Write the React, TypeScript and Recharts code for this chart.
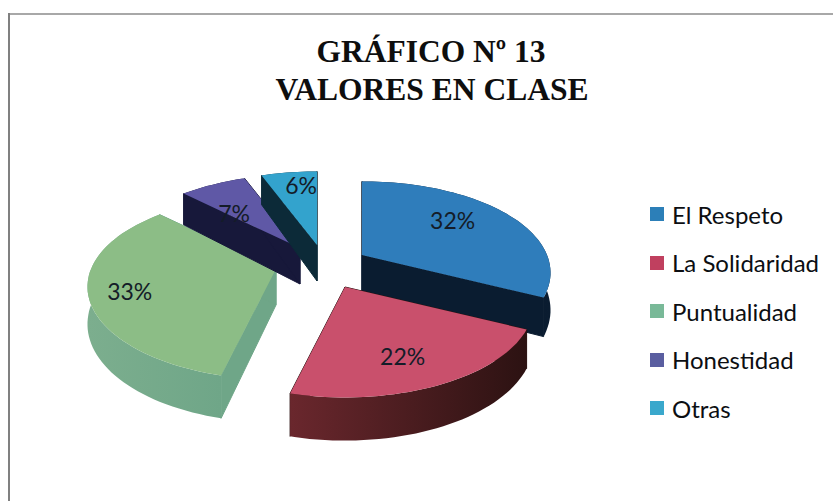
import * as React from "react"
import { PieChart, Pie, Legend } from "recharts"

const categories = ["El Respeto", "La Solidaridad", "Puntualidad", "Honestidad", "Otras"]
const shares = [32, 22, 33, 7, 6]
const titleLines = ["GRÁFICO Nº 13", "VALORES EN CLASE"]

const topColors = ["#2f7dbb", "#c9506c", "#8cbd86", "#5f58a6", "#33a3cd"]
const rimColors = ["#0d2036", "#6a272d", "#7cae8e", "#17183a", "#0c2a38"]
const rimFarColors = ["#0a1c30", "#2c1212", "#6fa688", "#17183a", "#0c2a38"]
const legendColors = ["#2c7fb8", "#c0405f", "#79b998", "#5a5ea0", "#3aa8cc"]

const pieData = categories.map((name, i) => ({ name, value: shares[i], fill: topColors[i] }))

// look of the tilted pie
const RX = 185
const RY = 92
const PERSPECTIVE = 0.2
const DEPTH = 36
const shiftX = [44, 27, -42, -18, -1]
const shiftY = [-13, 19, 1, -20, -23]
const labelSpot = [
  [0.65, 0.8],
  [0.62, 0.7],
  [0.78, 0.8],
  [0.76, 0.55],
  [0.57, 0.82],
]

function project(index: number, cx: number, cy: number, clock: number, r: number, drop = false) {
  const rad = (clock * Math.PI) / 180
  const X = Math.sin(rad) * r
  const Y = -Math.cos(rad) * r
  const k = 1 + PERSPECTIVE * Y
  return {
    x: cx + shiftX[index] + X * k * RX,
    y: cy + shiftY[index] + Y * k * RY + (drop ? DEPTH * k : 0),
  }
}

function toPath(points: { x: number; y: number }[]) {
  return points.map((p, i) => `${i ? "L" : "M"}${p.x.toFixed(1)},${p.y.toFixed(1)}`).join(" ") + " Z"
}

function Slice(props: any) {
  const { cx, cy, startAngle, endAngle, index } = props
  const from = 90 - startAngle
  const to = 90 - endAngle
  const rim: number[] = []
  for (let a = from; a < to; a += 2) rim.push(a)
  rim.push(to)

  const top = rim.map((a) => project(index, cx, cy, a, 1))
  const low = rim.map((a) => project(index, cx, cy, a, 1, true))
  const apex = project(index, cx, cy, 0, 0)
  const apexLow = project(index, cx, cy, 0, 0, true)
  const wall = rimFarColors[index]
  const gradId = `rim-${index}`

  return (
    <g>
      <defs>
        <linearGradient id={gradId} x1="0" y1="0" x2="1" y2="0">
          <stop offset="0" stopColor={rimColors[index]} />
          <stop offset="1" stopColor={rimFarColors[index]} />
        </linearGradient>
      </defs>
      <path d={toPath([apex, top[0], low[0], apexLow])} fill={wall} stroke={wall} />
      <path d={toPath([apex, top[top.length - 1], low[low.length - 1], apexLow])} fill={wall} stroke={wall} />
      <path d={toPath([...top, ...[...low].reverse()])} fill={`url(#${gradId})`} />
      <path d={toPath([apex, ...top])} fill={topColors[index]} />
    </g>
  )
}

function SliceLabel(props: any) {
  const { cx, cy, midAngle, index, value } = props
  const rad = ((90 - midAngle) * Math.PI) / 180
  const X = Math.sin(rad)
  const Y = -Math.cos(rad)
  const k = 1 + PERSPECTIVE * Y
  const x = cx + shiftX[index] + X * k * RX * labelSpot[index][0]
  const y = cy + shiftY[index] + Y * k * RY * labelSpot[index][1]
  return (
    <text x={x} y={y} textAnchor="middle" dominantBaseline="central" fontFamily="Lato" fontSize={23} fill="#141c28">
      {value}%
    </text>
  )
}

function LegendList() {
  return (
    <div>
      {categories.map((name, i) => (
        <div key={name} style={{ display: "flex", alignItems: "center", height: 48.5 }}>
          <span style={{ width: 14, height: 14, background: legendColors[i], marginRight: 8 }} />
          <span style={{ fontFamily: "Lato", fontSize: 24, color: "#0c0e12" }}>{name}</span>
        </div>
      ))}
    </div>
  )
}

export default function App() {
  return (
    <div style={{ position: "relative", width: 833, height: 501, overflow: "hidden", background: "#fff" }}>
      <style>{"body{margin:0;background:#fff}"}</style>
      <div style={{ position: "absolute", left: 8, top: 13, width: 825, height: 2, background: "#a8a8a8" }} />
      <div style={{ position: "absolute", left: 8, top: 13, width: 2, height: 488, background: "#808080" }} />
      <PieChart
        width={833}
        height={501}
        margin={{ top: 0, right: 0, bottom: 0, left: 0 }}
        style={{ position: "absolute", left: 0, top: 0 }}
      >
        <text x={431} y={62} textAnchor="middle" textLength={229} lengthAdjust="spacingAndGlyphs" fontFamily="Liberation Serif" fontWeight="bold" fontSize={32} fill="#0e0e0e">
          {titleLines[0]}
        </text>
        <text x={432} y={100} textAnchor="middle" textLength={313} lengthAdjust="spacingAndGlyphs" fontFamily="Liberation Serif" fontWeight="bold" fontSize={32} fill="#0e0e0e">
          {titleLines[1]}
        </text>
        <Pie
          data={pieData}
          dataKey="value"
          nameKey="name"
          cx={318}
          cy={268}
          outerRadius={RX}
          startAngle={90}
          endAngle={-270}
          stroke="none"
          shape={Slice}
          label={SliceLabel}
          labelLine={false}
          isAnimationActive={false}
        />
        <Legend content={LegendList} wrapperStyle={{ left: 650, top: 190, width: 180 }} />
      </PieChart>
    </div>
  )
}
